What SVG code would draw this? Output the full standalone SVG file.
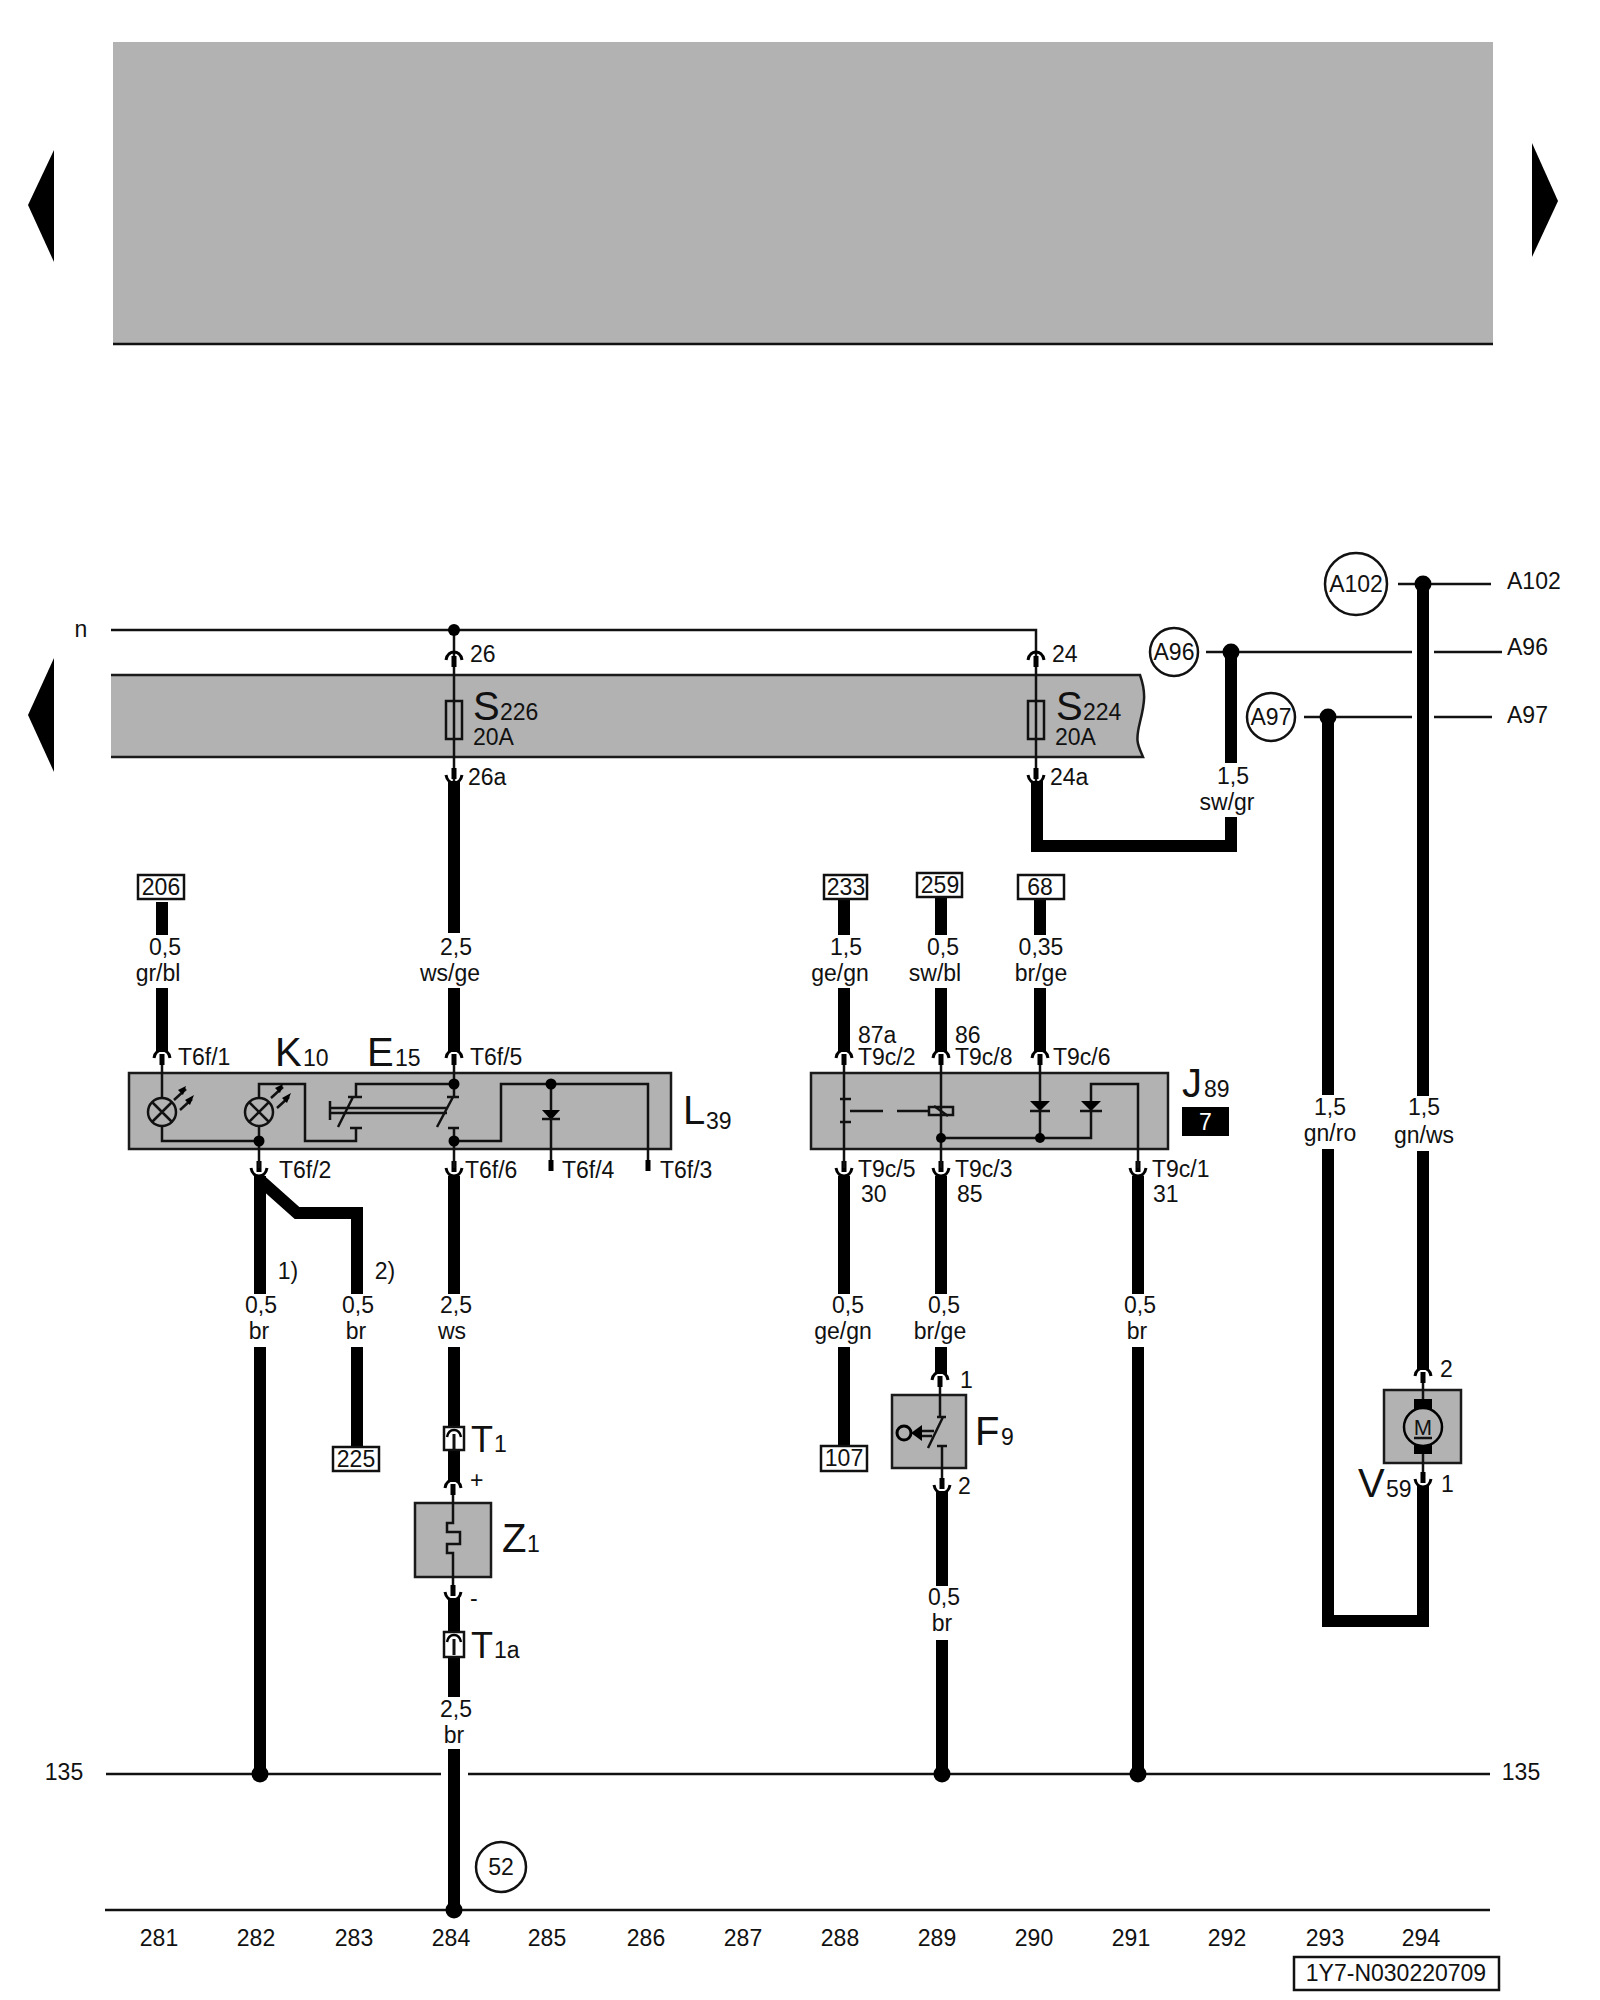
<svg xmlns="http://www.w3.org/2000/svg" xmlns:xlink="http://www.w3.org/1999/xlink" width="1600" height="2000" viewBox="0 0 1600 2000">
<style>
text{font-family:"Liberation Sans",Arial,sans-serif;font-size:23px;fill:#111}
.c{text-anchor:middle}
.b{font-size:40px}
.t{font-size:36px}
.w{fill:none;stroke:#000;stroke-width:12}
.n{fill:none;stroke:#111;stroke-width:2.5}
.g{fill:#b2b2b2;stroke:#1a1a1a;stroke-width:2.5}
.r{fill:#fff;stroke:#111;stroke-width:2.5}
.d{fill:#000}
</style>
<defs>
<g id="pt"><path d="M-8,8C-7,2-3,0 0,0C3,0 7,2 8,8" fill="none" stroke="#000" stroke-width="3"/><rect x="-2.500" y="4" width="5" height="11" fill="#000"/></g>
<g id="pb"><path d="M-8,-8C-7,-2-3,0 0,0C3,0 7,-2 8,-8" fill="none" stroke="#000" stroke-width="3"/><rect x="-2.500" y="-15" width="5" height="11" fill="#000"/></g>
<g id="pi"><path d="M-7,7C-6,2-3,0 0,0C3,0 6,2 7,7" fill="none" stroke="#000" stroke-width="2.500"/><path d="M0,4V20" stroke="#111" stroke-width="3"/></g>
</defs>
<rect id="top-panel" x="113" y="42" width="1380" height="302" fill="#b2b2b2"/>
<path d="M113,344H1493" stroke="#111" stroke-width="2.5"/>
<polygon id="nav-left-1" points="28,205 54,150 54,262" fill="#000"/>
<polygon id="nav-right" points="1558,201 1532,143 1532,257" fill="#000"/>
<polygon id="nav-left-2" points="28,715 54,658 54,772" fill="#000"/>

<g id="fuse-band">
<path d="M111,675H1140C1146,692 1145,702 1140,722C1135,742 1138,745 1143,757H111" fill="#b2b2b2" stroke="#1a1a1a" stroke-width="2.5"/>
</g>

<g id="connectors">
<path class="n" d="M111,630H1036V781M454,630V781"/>
<path class="n" d="M106,1774H441M468,1774H1490M105,1910H1490"/>
<path class="n" d="M1398,584H1491M1206,652H1412M1434,652H1502M1304,717H1412M1434,717H1492"/>
<path class="w" d="M454,781V933M454,988V1052M454,1176V1294M454,1347V1482M454,1598V1697M454,1749V1910"/>
<path class="w" d="M1037,781V846H1231V817M1231,763V652"/>
<path class="w" d="M162,902V935M162,988V1052M260,1176V1294M260,1347V1774"/>
<path class="w" d="M260,1180L297,1213H357V1294M357,1347V1446" stroke-linejoin="miter"/>
<path class="w" d="M844,900V935M844,988V1052M844,1176V1294M844,1347V1446"/>
<path class="w" d="M941,898V935M941,988V1052M941,1176V1294M941,1347V1374M942,1491V1586M942,1640V1774"/>
<path class="w" d="M1040,900V935M1040,988V1052"/>
<path class="w" d="M1138,1176V1294M1138,1347V1774"/>
<path class="w" d="M1423,584V1096M1423,1151V1370M1423,1486V1621H1328V1149M1328,1095V717"/>
<circle class="d" cx="454" cy="630" r="6"/>
<circle class="d" cx="1231" cy="652" r="8.5"/>
<circle class="d" cx="1328" cy="717" r="8.5"/>
<circle class="d" cx="1423" cy="584" r="8.5"/>
<circle class="d" cx="260" cy="1774" r="8.5"/>
<circle class="d" cx="942" cy="1774" r="8.5"/>
<circle class="d" cx="1138" cy="1774" r="8.5"/>
<circle class="d" cx="454" cy="1910" r="8.5"/>
<use xlink:href="#pt" href="#pt" x="454" y="652"/>
<use xlink:href="#pt" href="#pt" x="1036" y="652"/>
<use xlink:href="#pb" href="#pb" x="454" y="783"/>
<use xlink:href="#pb" href="#pb" x="1036" y="783"/>
<use xlink:href="#pt" href="#pt" x="162" y="1050"/>
<use xlink:href="#pt" href="#pt" x="454" y="1050"/>
<use xlink:href="#pt" href="#pt" x="844" y="1050"/>
<use xlink:href="#pt" href="#pt" x="941" y="1050"/>
<use xlink:href="#pt" href="#pt" x="1040" y="1050"/>
<use xlink:href="#pb" href="#pb" x="259" y="1176"/>
<use xlink:href="#pb" href="#pb" x="454" y="1176"/>
<use xlink:href="#pb" href="#pb" x="844" y="1176"/>
<use xlink:href="#pb" href="#pb" x="941" y="1176"/>
<use xlink:href="#pb" href="#pb" x="1138" y="1176"/>
</g>

<g id="S226">
<rect class="n" x="446" y="701" width="16" height="38"/>
<text x="473" y="720" class="b">S</text><text x="500" y="720">226</text><text x="473" y="745">20A</text>
<text x="470" y="662">26</text><text x="468" y="785">26a</text>
</g>
<g id="S224">
<rect class="n" x="1028" y="701" width="16" height="38"/>
<text x="1056" y="720" class="b">S</text><text x="1083" y="720">224</text><text x="1055" y="745">20A</text>
<text x="1052" y="662">24</text><text x="1050" y="785">24a</text>
</g>

<g id="L39">
<rect class="g" x="129" y="1073" width="542" height="76"/>
<path class="n" d="M162,1065V1098M162,1126V1141H259M259,1126V1168M259,1098V1084H305V1141H356V1128M350,1128H362M356,1097V1084H454M348,1097H362M338,1127L353,1097M454,1065V1097M447,1097H459M437,1127L453,1097M448,1128H459M454,1128V1168M454,1141H501V1084H648V1160M551,1084V1160"/>
<path class="n" d="M330,1101V1120M330,1108H447M330,1113H447"/>
<circle class="n" cx="162" cy="1112" r="14"/><path class="n" d="M152,1102L172,1122M172,1102L152,1122"/>
<circle class="n" cx="259" cy="1112" r="14"/><path class="n" d="M249,1102L269,1122M269,1102L249,1122"/>
<path class="n" d="M174,1100L186,1089M180,1110L192,1099M271,1098L283,1087M277,1108L289,1097"/>
<path class="d" d="M186,1086L178,1090L183,1095ZM194,1095L185,1100L190,1105ZM283,1084L275,1088L280,1093ZM291,1093L282,1098L287,1103Z"/>
<circle class="d" cx="454" cy="1084" r="5.5"/><circle class="d" cx="259" cy="1141" r="5.5"/><circle class="d" cx="454" cy="1141" r="5.5"/><circle class="d" cx="551" cy="1084" r="5.5"/>
<path class="d" d="M542,1110H560L551,1120Z"/><path class="n" d="M542,1119H560"/>
<rect class="d" x="548.500" y="1160" width="5" height="11"/><rect class="d" x="645.500" y="1160" width="5" height="11"/>
<text x="178" y="1065">T6f/1</text>
<text x="275" y="1066" class="b">K</text><text x="303" y="1066">10</text>
<text x="367" y="1066" class="b">E</text><text x="395" y="1066">15</text>
<text x="470" y="1065">T6f/5</text>
<text x="279" y="1178">T6f/2</text><text x="465" y="1178">T6f/6</text><text x="562" y="1178">T6f/4</text><text x="660" y="1178">T6f/3</text>
<text x="683" y="1124" class="b">L</text><text x="706" y="1129">39</text>
</g>

<g id="J89">
<rect class="g" x="811" y="1073" width="357" height="76"/>
<path class="n" d="M844,1065V1168M840,1099H851M840,1122H851M850,1111H883M897,1111H929M941,1065V1168M941,1138H1091V1084H1138V1168M1040,1065V1138"/>
<rect class="n" x="929" y="1107" width="24" height="8"/><path class="n" d="M934,1106L948,1116"/>
<path class="d" d="M1030,1101H1050L1040,1111ZM1081,1101H1101L1091,1111Z"/><path class="n" d="M1030,1111H1050M1080,1111H1102"/>
<circle class="d" cx="941" cy="1138" r="5"/><circle class="d" cx="1040" cy="1138" r="5"/>
<text x="858" y="1043">87a</text><text x="858" y="1065">T9c/2</text>
<text x="955" y="1043">86</text><text x="955" y="1065">T9c/8</text>
<text x="1053" y="1065">T9c/6</text>
<text x="858" y="1177">T9c/5</text><text x="861" y="1202">30</text>
<text x="955" y="1177">T9c/3</text><text x="957" y="1202">85</text>
<text x="1152" y="1177">T9c/1</text><text x="1153" y="1202">31</text>
<text x="1182" y="1097" class="b">J</text><text x="1204" y="1097">89</text>
<rect class="d" x="1182" y="1107" width="47" height="29"/><text x="1205.500" y="1130" class="c" style="fill:#fff">7</text>
</g>

<g id="Z1">
<rect class="g" x="415" y="1503" width="76" height="74"/>
<path class="n" d="M453,1490V1523H447V1532H460V1544H447V1553H453V1590"/>
<use xlink:href="#pt" href="#pt" x="453" y="1480"/><use xlink:href="#pb" href="#pb" x="453" y="1600"/>
<text x="470" y="1488">+</text><text x="470" y="1606">-</text>
<text x="502" y="1552" class="b">Z</text><text x="527" y="1552">1</text>
</g>
<g id="T1">
<rect class="r" x="444" y="1427" width="20" height="23"/>
<use xlink:href="#pi" href="#pi" x="454" y="1430"/>
<text x="471" y="1452" class="t">T</text><text x="494" y="1452">1</text>
</g>
<g id="T1a">
<rect class="r" x="444" y="1632" width="20" height="25"/>
<use xlink:href="#pi" href="#pi" x="454" y="1635"/>
<text x="471" y="1658" class="t">T</text><text x="494" y="1658">1a</text>
</g>

<g id="F9">
<rect class="g" x="892" y="1395" width="74" height="73"/>
<path class="n" d="M940,1385V1417M937,1417H946M928,1448L943,1417M937,1446H947M942,1446V1480M920,1431H934M920,1436H932"/>
<circle cx="904" cy="1433" r="7" fill="none" stroke="#000" stroke-width="3"/>
<path class="d" d="M911,1433L922,1425V1441Z"/>
<use xlink:href="#pt" href="#pt" x="940" y="1372"/><use xlink:href="#pb" href="#pb" x="942" y="1493"/>
<text x="960" y="1388">1</text><text x="958" y="1494">2</text>
<text x="975" y="1445" class="b">F</text><text x="1001" y="1445">9</text>
</g>

<g id="V59">
<rect class="g" x="1384" y="1390" width="77" height="73"/>
<path class="n" d="M1423,1380V1399M1423,1454V1478"/>
<rect class="d" x="1414" y="1399" width="18" height="55"/>
<circle cx="1423" cy="1427" r="19" fill="#b2b2b2" stroke="#000" stroke-width="2.5"/>
<text x="1423" y="1435" class="c" style="font-size:22px">M</text><path class="n" d="M1414,1438H1432"/>
<use xlink:href="#pt" href="#pt" x="1423" y="1368"/><use xlink:href="#pb" href="#pb" x="1423" y="1487"/>
<text x="1440" y="1377">2</text><text x="1441" y="1492">1</text>
<text x="1358" y="1497" class="b">V</text><text x="1386" y="1497">59</text>
</g>

<g id="refs">
<rect class="r" x="138" y="875" width="46" height="24"/><text x="161" y="895" class="c">206</text>
<rect class="r" x="824" y="875" width="43" height="24"/><text x="846" y="895" class="c">233</text>
<rect class="r" x="917" y="873" width="45" height="24"/><text x="940" y="893" class="c">259</text>
<rect class="r" x="1018" y="875" width="46" height="24"/><text x="1040" y="895" class="c">68</text>
<rect class="r" x="333" y="1447" width="46" height="24"/><text x="356" y="1467" class="c">225</text>
<rect class="r" x="821" y="1446" width="46" height="25"/><text x="844" y="1466" class="c">107</text>
</g>

<g id="circles">
<circle class="n" cx="1356" cy="584" r="31" style="fill:#fff"/><text x="1356" y="592" class="c">A102</text>
<circle class="n" cx="1174" cy="652" r="24"/><text x="1174" y="660" class="c">A96</text>
<circle class="n" cx="1271" cy="717" r="24"/><text x="1271" y="725" class="c">A97</text>
<circle class="n" cx="501" cy="1867" r="25"/><text x="501" y="1875" class="c">52</text>
</g>

<g id="labels">
<text x="81" y="637" class="c">n</text>
<text x="1507" y="589">A102</text><text x="1507" y="655">A96</text><text x="1507" y="723">A97</text>
<text x="64" y="1780" class="c">135</text><text x="1521" y="1780" class="c">135</text>
<text x="165" y="955" class="c">0,5</text><text x="158" y="981" class="c">gr/bl</text>
<text x="456" y="955" class="c">2,5</text><text x="450" y="981" class="c">ws/ge</text>
<text x="846" y="955" class="c">1,5</text><text x="840" y="981" class="c">ge/gn</text>
<text x="943" y="955" class="c">0,5</text><text x="935" y="981" class="c">sw/bl</text>
<text x="1041" y="955" class="c">0,35</text><text x="1041" y="981" class="c">br/ge</text>
<text x="288" y="1279" class="c">1)</text><text x="385" y="1279" class="c">2)</text>
<text x="261" y="1313" class="c">0,5</text><text x="259" y="1339" class="c">br</text>
<text x="358" y="1313" class="c">0,5</text><text x="356" y="1339" class="c">br</text>
<text x="456" y="1313" class="c">2,5</text><text x="452" y="1339" class="c">ws</text>
<text x="848" y="1313" class="c">0,5</text><text x="843" y="1339" class="c">ge/gn</text>
<text x="944" y="1313" class="c">0,5</text><text x="940" y="1339" class="c">br/ge</text>
<text x="1140" y="1313" class="c">0,5</text><text x="1137" y="1339" class="c">br</text>
<text x="1233" y="784" class="c">1,5</text><text x="1227" y="810" class="c">sw/gr</text>
<text x="1330" y="1115" class="c">1,5</text><text x="1330" y="1141" class="c">gn/ro</text>
<text x="1424" y="1115" class="c">1,5</text><text x="1424" y="1143" class="c">gn/ws</text>
<text x="944" y="1605" class="c">0,5</text><text x="942" y="1631" class="c">br</text>
<text x="456" y="1717" class="c">2,5</text><text x="454" y="1743" class="c">br</text>
</g>

<g id="ruler">
<text x="159" y="1946" class="c">281</text><text x="256" y="1946" class="c">282</text><text x="354" y="1946" class="c">283</text><text x="451" y="1946" class="c">284</text><text x="547" y="1946" class="c">285</text><text x="646" y="1946" class="c">286</text><text x="743" y="1946" class="c">287</text><text x="840" y="1946" class="c">288</text><text x="937" y="1946" class="c">289</text><text x="1034" y="1946" class="c">290</text><text x="1131" y="1946" class="c">291</text><text x="1227" y="1946" class="c">292</text><text x="1325" y="1946" class="c">293</text><text x="1421" y="1946" class="c">294</text>
<rect class="r" x="1294" y="1957" width="205" height="33"/><text x="1396" y="1981" class="c">1Y7-N030220709</text>
</g>
</svg>
